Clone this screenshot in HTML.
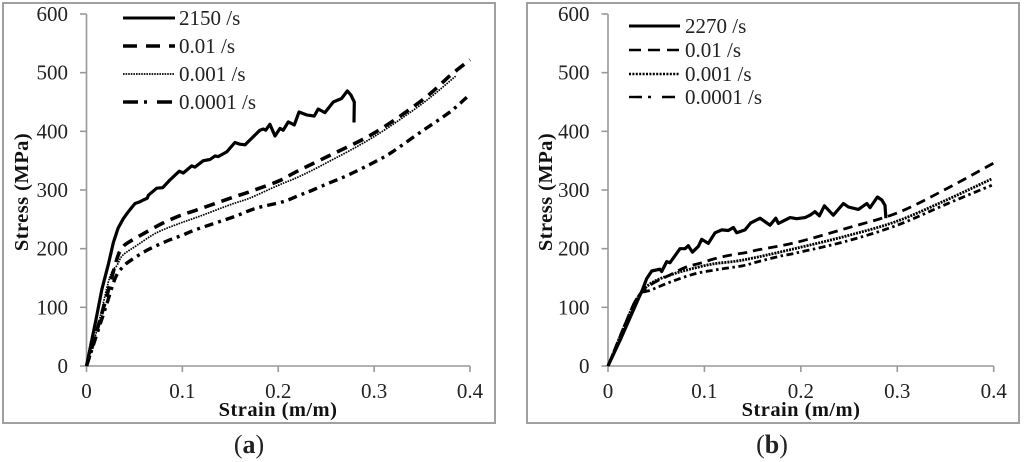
<!DOCTYPE html>
<html lang="en">
<head>
<meta charset="utf-8">
<title>Stress-strain curves</title>
<style>
html,body{margin:0;padding:0;background:#fff;width:1024px;height:462px;overflow:hidden}
svg{display:block;filter:blur(0.35px)}
text{font-family:"Liberation Serif",serif;fill:#222}
</style>
</head>
<body>
<svg id="chart" xmlns="http://www.w3.org/2000/svg" width="1024" height="462" viewBox="0 0 1024 462">
<rect x="3" y="3" width="492" height="420" fill="#fff" stroke="#a0a0a0" stroke-width="2"/>
<rect x="527" y="3" width="492" height="420" fill="#fff" stroke="#a0a0a0" stroke-width="2"/>
<text x="278" y="416" text-anchor="middle" font-size="20.5" font-weight="bold" letter-spacing="0.45" style="fill:#111">Strain (m/m)</text>
<text x="801" y="416" text-anchor="middle" font-size="20.5" font-weight="bold" letter-spacing="0.45" style="fill:#111">Strain (m/m)</text>
<text transform="translate(28,192) rotate(-90)" text-anchor="middle" font-size="20.5" font-weight="bold" letter-spacing="0.45" style="fill:#111">Stress (MPa)</text>
<text transform="translate(552,192) rotate(-90)" text-anchor="middle" font-size="20.5" font-weight="bold" letter-spacing="0.45" style="fill:#111">Stress (MPa)</text>
<text x="249" y="453" text-anchor="middle" font-size="26">(<tspan font-weight="bold">a</tspan>)</text>
<text x="772" y="453" text-anchor="middle" font-size="26">(<tspan font-weight="bold">b</tspan>)</text>
</svg>
<script>
// Shared tick labels
const xTicks = [0, 0.1, 0.2, 0.3, 0.4];
const yTicks = [0, 100, 200, 300, 400, 500, 600];

// Panel (a) data
const labelsA = ['2150 /s', '0.01 /s', '0.001 /s', '0.0001 /s'];
const strainA2150 = [0,0.005,0.01,0.016,0.023,0.028,0.033,0.0384,0.0436,0.0506,0.0558,0.0592,0.0634,0.0645,0.0732,0.0795,0.087,0.0968,0.101,0.1097,0.1131,0.1218,0.1288,0.134,0.1374,0.1462,0.1548,0.16,0.1653,0.1722,0.1809,0.1844,0.1869,0.1913,0.1966,0.2018,0.2052,0.2105,0.2167,0.2216,0.2296,0.2375,0.2417,0.2487,0.2574,0.2661,0.272,0.2758,0.2793,0.279];
const stressA2150 = [0,40,80,130,175,210,235,251,263,277,280,283,286,291,303,304,317,332,329,341,339,350,352,358,357,365,381,378,377,388,402,404,402,412,392,405,402,416,411,433,428,426,438,432,450,456,469,462,450,415];
const strainA001 = [0,0.011,0.021,0.032,0.038,0.045,0.061,0.079,0.097,0.115,0.15,0.17,0.2,0.22,0.25,0.3,0.35,0.38,0.4];
const stressA001 = [0,61,118,184,203,212,227,243,256,266,286,297,315,332,356,397,453,496,522];
const strainA0001 = [0,0.011,0.024,0.032,0.038,0.053,0.073,0.097,0.116,0.15,0.17,0.2,0.222,0.25,0.3,0.35,0.385];
const stressA0001 = [0,62,150,172,189,206,227,243,254,275,286,308,323,346,391,447,494];
const strainA00001 = [0,0.011,0.021,0.03,0.038,0.047,0.064,0.084,0.1,0.115,0.153,0.177,0.205,0.222,0.236,0.253,0.271,0.302,0.319,0.347,0.379,0.4];
const stressA00001 = [0,55,105,150,169,181,198,213,223,233,254,269,280,291,300,312,324,349,365,397,433,463];

// Panel (b) data
const labelsB = ['2270 /s', '0.01 /s', '0.001 /s', '0.0001 /s'];
const strainB2270 = [0,0.0125,0.03,0.036,0.0401,0.0453,0.0539,0.0557,0.0609,0.0643,0.0747,0.0799,0.0833,0.0875,0.0937,0.0972,0.104,0.111,0.118,0.1248,0.13,0.1335,0.1421,0.148,0.1577,0.168,0.174,0.1767,0.1888,0.1957,0.2044,0.2095,0.2147,0.2192,0.2244,0.2337,0.2441,0.2493,0.2597,0.2684,0.2718,0.2794,0.2839,0.2873,0.2882];
const stressB2270 = [0,44,109,131,149,162,165,161,178,176,200,200,205,194,204,216,209,227,232,231,236,227,232,244,252,240,252,243,253,251,253,257,263,256,273,257,277,271,267,277,270,288,283,274,252];
const strainB001 = [0,0.01,0.02,0.03,0.044,0.064,0.08,0.095,0.111,0.127,0.142,0.156,0.196,0.248,0.3,0.351,0.4];
const stressB001 = [0,40,80,115,138,155,168,175,183,189,193,198,211,235,261,302,346];
const strainB0001 = [0,0.01,0.02,0.03,0.0436,0.0643,0.085,0.109,0.134,0.156,0.196,0.248,0.3,0.351,0.398];
const stressB0001 = [0,40,80,115,140,155,165,174,179,186,201,222,247,283,319];
const strainB00001 = [0,0.01,0.02,0.032,0.0453,0.0677,0.092,0.116,0.14,0.156,0.178,0.196,0.248,0.3,0.351,0.398];
const stressB00001 = [0,40,80,120,130,145,158,165,171,178,187,193,213,240,276,308];

const NS = 'http://www.w3.org/2000/svg';
const svg = document.getElementById('chart');
const AXIS = '#999';

function node(tag, attrs, parent) {
  const el = document.createElementNS(NS, tag);
  for (const k in attrs) el.setAttribute(k, attrs[k]);
  (parent || svg).appendChild(el);
  return el;
}

function makePanel(x0, x04) {
  return {
    x: v => x0 + (x04 - x0) * v / 0.4,
    y: v => 366 - 352 * v / 600,
    x0: x0,
    x1: x04
  };
}

function drawAxes(p, id) {
  const yLine = node('line', {x1:p.x0, y1:p.y(0), x2:p.x0, y2:p.y(600), stroke:AXIS, 'stroke-width':1.6});
  
  
  const xLine = node('line', {x1:p.x0, y1:p.y(0), x2:p.x1, y2:p.y(0), stroke:AXIS, 'stroke-width':1.6});
  
  
  yTicks.forEach(v => {
    const t = node('line', {x1:p.x0 - 6.5, y1:p.y(v), x2:p.x0, y2:p.y(v), stroke:AXIS, 'stroke-width':1.6});
    
    
    const l = node('text', {x:p.x0 - 18.5, y:p.y(v) + 7, 'text-anchor':'end', 'font-size':21});
    l.textContent = String(v);
    
    
  });
  xTicks.forEach(v => {
    const t = node('line', {x1:p.x(v), y1:p.y(0), x2:p.x(v), y2:p.y(0) + 6, stroke:AXIS, 'stroke-width':1.6});
    
    
    const l = node('text', {x:p.x(v), y:398, 'text-anchor':'middle', 'font-size':21});
    l.textContent = String(v);
    
    
  });
}

// Jagged rate-test traces are straight segments; smooth quasi-static traces use a spline through the read values.
function pathFor(pts, smooth) {
  let d = 'M' + pts[0][0].toFixed(1) + ' ' + pts[0][1].toFixed(1);
  for (let i = 0; i < pts.length - 1; i++) {
    const a = pts[i], b = pts[i + 1];
    if (!smooth) {
      d += 'L' + b[0].toFixed(1) + ' ' + b[1].toFixed(1);
    } else {
      const p0 = pts[i - 1] || a, p3 = pts[i + 2] || b;
      const c1x = a[0] + (b[0] - p0[0]) / 6, c1y = a[1] + (b[1] - p0[1]) / 6;
      const c2x = b[0] - (p3[0] - a[0]) / 6, c2y = b[1] - (p3[1] - a[1]) / 6;
      d += 'C' + c1x.toFixed(1) + ' ' + c1y.toFixed(1) + ' ' + c2x.toFixed(1) + ' ' + c2y.toFixed(1) + ' ' + b[0].toFixed(1) + ' ' + b[1].toFixed(1);
    }
  }
  return d;
}

function drawSeries(p, xs, ys, width, dash, smooth, name) {
  const pts = xs.map((v, i) => [p.x(v), p.y(ys[i])]);
  const line = node('path', {d:pathFor(pts, smooth), fill:'none', stroke:'#000', 'stroke-width':width, 'stroke-linejoin':'round'});
  if (dash) line.setAttribute('stroke-dasharray', dash);
  
  
}

function drawLegendEntry(x1, x2, y, textX, label, width, dash, name) {
  const line = node('line', {x1:x1, y1:y, x2:x2, y2:y, stroke:'#000', 'stroke-width':width});
  if (dash) line.setAttribute('stroke-dasharray', dash);
  
  
  const t = node('text', {x:textX, y:y + 7, 'font-size':21});
  t.textContent = label;
  
  
}

const panelA = makePanel(86.5, 470);
const panelB = makePanel(608, 993.7);

drawAxes(panelA, 'panel-a');
drawAxes(panelB, 'panel-b');

drawSeries(panelA, strainA00001, stressA00001, 3.4, '9 5 3 5', true, 'panel-a-series-0.0001');
drawSeries(panelA, strainA0001, stressA0001, 1.7, '1.6 1', true, 'panel-a-series-0.001');
drawSeries(panelA, strainA001, stressA001, 3.6, '11 7', true, 'panel-a-series-0.01');
drawSeries(panelA, strainA2150, stressA2150, 3.2, '', false, 'panel-a-series-2150');

drawSeries(panelB, strainB00001, stressB00001, 2.8, '7 3.5 2.5 3.5', true, 'panel-b-series-0.0001');
drawSeries(panelB, strainB0001, stressB0001, 2.8, '2 1', true, 'panel-b-series-0.001');
drawSeries(panelB, strainB001, stressB001, 2.8, '9.5 6', true, 'panel-b-series-0.01');
drawSeries(panelB, strainB2270, stressB2270, 3.2, '', false, 'panel-b-series-2270');

const legendYA = [18, 46, 74, 102];
const legendYB = [26, 50, 74, 97];
const legendStyleA = [[3,''],[3.6,'14 9'],[1.8,'1.6 1'],[3.4,'15 6 3 10']];
const legendStyleB = [[3,''],[2.4,'12 7'],[2.6,'2 1.4'],[2.4,'13 6 3 11']];

labelsA.forEach((label, i) => {
  drawLegendEntry(123, 175, legendYA[i], 179, label, legendStyleA[i][0], legendStyleA[i][1], 'panel-a-entry-' + i);
});
labelsB.forEach((label, i) => {
  drawLegendEntry(629, 680, legendYB[i], 685, label, legendStyleB[i][0], legendStyleB[i][1], 'panel-b-entry-' + i);
});
</script>
</body>
</html>
